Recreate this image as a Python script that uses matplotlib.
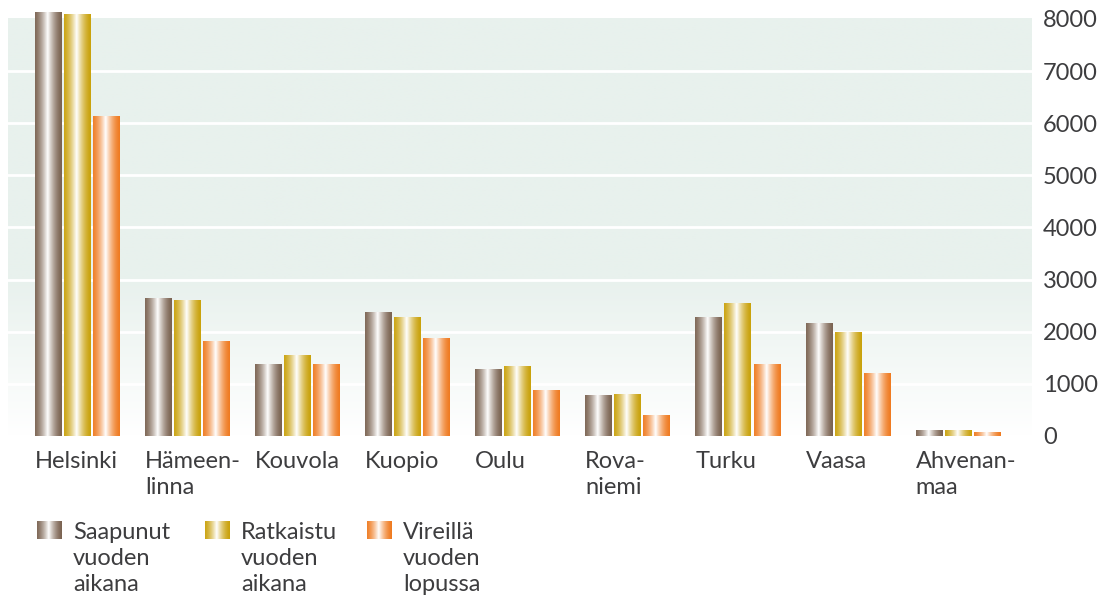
import matplotlib.pyplot as plt
import matplotlib.colors as mcolors
import numpy as np

# data
courts = ["Helsinki", "Hämeen-\nlinna", "Kouvola", "Kuopio", "Oulu",
          "Rova-\nniemi", "Turku", "Vaasa", "Ahvenan-\nmaa"]
saapunut = [8130, 2630, 1380, 2360, 1285, 770, 2265, 2150, 115]
ratkaistu = [8090, 2590, 1535, 2280, 1340, 805, 2550, 1980, 115]
vireilla = [6120, 1820, 1380, 1880, 880, 400, 1380, 1190, 75]
series_labels = ["Saapunut\nvuoden\naikana", "Ratkaistu\nvuoden\naikana",
                 "Vireillä\nvuoden\nlopussa"]
edge_colors = ["#7a6250", "#c9a10a", "#ef7a1f"]
yticks = [0, 1000, 2000, 3000, 4000, 5000, 6000, 7000, 8000]

TEXT = "#3d3d3f"
FS = 17
plt.rcParams['font.family'] = ['Lato', 'DejaVu Sans']


def shade(color, n=64):
    """Cylinder-like horizontal gradient: dark edges, white highlight"""
    base = np.array(mcolors.to_rgb(color))
    t = np.linspace(0, 1, n)
    w = np.clip(1 - np.abs(t - 0.47) / 0.55, 0, 1) ** 1.6
    rgb = base[None, :] * (1 - w[:, None]) + w[:, None]
    return rgb[None, :, :]


fig = plt.figure(figsize=(11.1, 5.97), dpi=100)
ax = fig.add_axes([0.0072, 0.2697, 0.9225, 0.7247])

x = np.arange(len(courts))
xlim = (-0.63, len(courts) - 1 + 0.67)
ymax = 8300

# background: pale green fading to white near the bottom
yy = np.linspace(0, 8000, 200)
fade = np.clip(yy / 3000, 0, 1)[:, None]
top = np.array(mcolors.to_rgb("#e8f1ed"))
bg = (1 - fade) * np.ones(3) + fade * top
ax.imshow(bg[::-1, None, :].repeat(2, axis=1), extent=[xlim[0], xlim[1], 0, 8000],
          aspect='auto', zorder=0, interpolation='bilinear')
for yv in yticks[1:-1]:
    ax.axhline(yv, color='white', lw=2, zorder=1)

width = 0.245
step = 0.264
for k, vals in enumerate([saapunut, ratkaistu, vireilla]):
    grad = shade(edge_colors[k])
    bars = ax.bar(x + (k - 1) * step, vals, width, color='none', zorder=2)
    for b in bars:
        x0 = b.get_x()
        ax.imshow(grad, extent=[x0, x0 + b.get_width(), 0, b.get_height()],
                  aspect='auto', zorder=3, interpolation='bilinear')

ax.set_xlim(*xlim)
ax.set_ylim(0, ymax)
for s in ax.spines.values():
    s.set_visible(False)

ax.yaxis.tick_right()
ax.set_yticks(yticks)
ax.set_yticklabels([str(v) for v in yticks])
ax.tick_params(axis='y', length=0, pad=8, labelsize=FS, labelcolor=TEXT)

ax.set_xticks(x - step - width / 2)
ax.set_xticklabels(courts, ha='left', va='top', linespacing=1.25)
ax.tick_params(axis='x', length=0, pad=11, labelsize=FS, labelcolor=TEXT)

# legend built by hand: gradient squares and three-line labels
leg_x = [37, 205, 367]
for k, lab in enumerate(series_labels):
    lx = leg_x[k] / 1110
    sq = fig.add_axes([lx, (597 - 539) / 597, 25 / 1110, 18 / 597])
    sq.imshow(shade(edge_colors[k]), aspect='auto', interpolation='bilinear')
    sq.axis('off')
    fig.text(lx + 36 / 1110, (597 - 522) / 597, lab, ha='left', va='top',
             fontsize=FS, color=TEXT, linespacing=1.3)

fig.savefig("out.png", dpi=100)
